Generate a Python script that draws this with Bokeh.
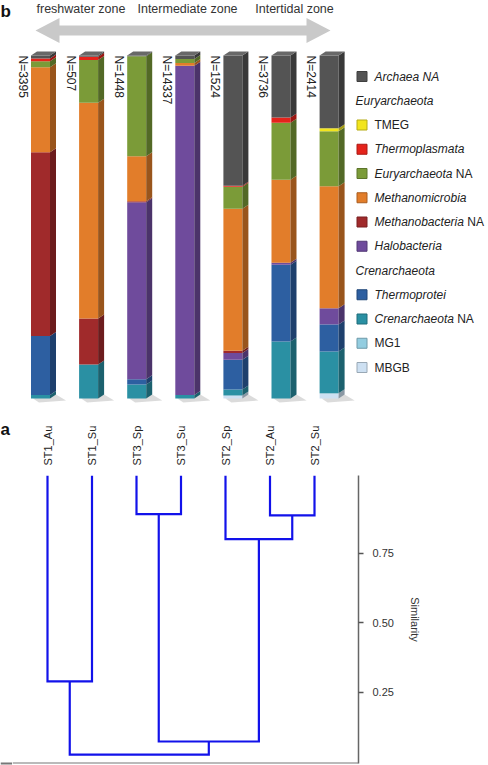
import math
from bokeh.plotting import figure
from bokeh.layouts import column, row
from bokeh.models import Range1d, FixedTicker, PrintfTickFormatter, Span
from bokeh.core.properties import value
from bokeh.embed import file_html
from bokeh.resources import INLINE

FONT = "Liberation Sans"

# ---------------- data ----------------
bar_labels = ["N=3395", "N=507", "N=1448", "N=14337", "N=1524", "N=3736", "N=2414"]
zones = ["freshwater zone", "Intermediate zone", "Intertidal zone"]

# stacking order bottom -> top
taxa = ["MBGB", "MG1", "Crenarchaeota NA", "Thermoprotei", "Halobacteria",
        "Methanobacteria NA", "Methanomicrobia", "Euryarchaeota NA",
        "Thermoplasmata", "TMEG", "Archaea NA"]
mbgb             = [0.0, 0.0, 0.0, 0.0, 0.9, 0.0, 1.5]
mg1              = [0.0, 0.0, 0.0, 0.0, 0.0, 0.0, 0.0]
crenarchaeota_na = [1.0, 9.9, 4.1, 1.0, 1.7, 16.6, 12.2]
thermoprotei     = [17.2, 0.0, 1.5, 0.0, 8.7, 22.4, 7.9]
halobacteria     = [0.0, 0.0, 51.6, 96.0, 2.0, 0.6, 4.7]
methanobacteria  = [53.6, 13.4, 0.3, 0.0, 0.6, 0.0, 0.0]
methanomicrobia  = [24.8, 62.9, 13.1, 0.8, 41.4, 24.2, 35.6]
euryarchaeota_na = [1.7, 12.5, 29.2, 1.2, 6.4, 16.6, 16.0]
thermoplasmata   = [0.8, 0.9, 0.0, 0.0, 0.3, 1.5, 0.0]
tmeg             = [0.0, 0.0, 0.0, 0.0, 0.0, 0.0, 0.9]
archaea_na       = [0.9, 0.4, 0.2, 1.0, 38.0, 18.1, 21.2]
series = [mbgb, mg1, crenarchaeota_na, thermoprotei, halobacteria, methanobacteria,
          methanomicrobia, euryarchaeota_na, thermoplasmata, tmeg, archaea_na]

colors = {
    "Archaea NA": "#545454", "TMEG": "#f2e51d", "Thermoplasmata": "#e5231b",
    "Euryarchaeota NA": "#7b9b38", "Methanomicrobia": "#e27d2a",
    "Methanobacteria NA": "#a02a2b", "Halobacteria": "#6f4b9c",
    "Thermoprotei": "#2d5fa1", "Crenarchaeota NA": "#2a90a3",
    "MG1": "#93cde0", "MBGB": "#cde0f2",
}

# legend rows: (kind, italic part, normal part, colour key)
legend_rows = [
    ("item", "Archaea NA", "", "Archaea NA"),
    ("head", "Euryarchaeota", "", None),
    ("item", "", "TMEG", "TMEG"),
    ("item", "Thermoplasmata", "", "Thermoplasmata"),
    ("item", "Euryarchaeota", "NA", "Euryarchaeota NA"),
    ("item", "Methanomicrobia", "", "Methanomicrobia"),
    ("item", "Methanobacteria", "NA", "Methanobacteria NA"),
    ("item", "Halobacteria", "", "Halobacteria"),
    ("head", "Crenarchaeota", "", None),
    ("item", "Thermoprotei", "", "Thermoprotei"),
    ("item", "Crenarchaeota", "NA", "Crenarchaeota NA"),
    ("item", "", "MG1", "MG1"),
    ("item", "", "MBGB", "MBGB"),
]

# dendrogram
leaves = ["ST1_Au", "ST1_Su", "ST3_Sp", "ST3_Su", "ST2_Sp", "ST2_Au", "ST2_Su"]
link_a = ["ST3_Sp", "ST2_Au", "ST2_Sp", "ST1_Au", "C0", "C3"]
link_b = ["ST3_Su", "ST2_Su", "C1", "ST1_Su", "C2", "C4"]
link_sim = [0.89, 0.885, 0.80, 0.288, 0.072, 0.025]
sim_ticks = [0.25, 0.50, 0.75]

# ---------------- helpers ----------------
def darken(hexc, f):
    h = hexc.lstrip("#")
    r, g, b = (int(h[i:i + 2], 16) for i in (0, 2, 4))
    return "#%02x%02x%02x" % (int(r * f), int(g * f), int(b * f))

def lighten(hexc, f):
    h = hexc.lstrip("#")
    r, g, b = (int(h[i:i + 2], 16) for i in (0, 2, 4))
    return "#%02x%02x%02x" % (int(r + (255 - r) * f), int(g + (255 - g) * f), int(b + (255 - b) * f))

AW = {"E": 667, "u": 556, "r": 333, "y": 500, "a": 556, "c": 500, "h": 556, "e": 556,
      "o": 556, "t": 278, "M": 833, "b": 556, "i": 222, "C": 722, "n": 556, " ": 278}

def text_w(s, size):
    return sum(AW.get(ch, 556) for ch in s) * size / 1000.0

def no_align(fig):
    try:
        fig.frame_align = False
    except Exception:
        pass

# ---------------- top chart (b) ----------------
TW, TH = 488, 404
XS, YS = 48.1, 3.43        # px per bar slot, px per percent
X0, Y0 = 40.0, 398.0       # px of bar 0 centre, px (from top) of 0 %

def fx(px):
    return (px - X0) / XS

def fy(py):
    return (Y0 - py) / YS

top = figure(width=TW, height=TH, x_range=Range1d(fx(0), fx(TW)), y_range=Range1d(fy(TH), fy(0)),
             x_axis_location=None, y_axis_location=None, toolbar_location=None, tools="",
             output_backend="svg", min_border=0, outline_line_color=None)
top.grid.visible = False
no_align(top)

half = 9.5 / XS
ddx = 6.0 / XS
ddy = 4.0 / YS

# floor shadows
sh_xs, sh_ys = [], []
for i in range(len(bar_labels)):
    xl, xr = i - half, i + half
    sh_xs.append([xl + 2 / XS, xr + ddx, xr + ddx + 10 / XS, xl + 8 / XS])
    sh_ys.append([0, ddy, -2.0 / YS, -4.0 / YS])
top.patches(sh_xs, sh_ys, fill_color="#bdbdbd", fill_alpha=0.55, line_color=None)

q = dict(left=[], right=[], bottom=[], top=[], color=[])
side_xs, side_ys, side_c = [], [], []
for i in range(len(bar_labels)):
    cum = 0.0
    xl, xr = i - half, i + half
    for t, s in zip(taxa, series):
        v = s[i]
        if v <= 0:
            continue
        q["left"].append(xl); q["right"].append(xr)
        q["bottom"].append(cum); q["top"].append(cum + v)
        q["color"].append(colors[t])
        side_xs.append([xr, xr + ddx, xr + ddx, xr])
        side_ys.append([cum, cum + ddy, cum + v + ddy, cum + v])
        side_c.append(darken(colors[t], 0.68))
        cum += v
    side_xs.append([xl, xl + ddx, xr + ddx, xr])
    side_ys.append([cum, cum + ddy, cum + ddy, cum])
    side_c.append(lighten(colors["Archaea NA"], 0.12))

top.quad(left="left", right="right", bottom="bottom", top="top", fill_color="color",
         line_color=None, source=q)
top.patches(side_xs, side_ys, fill_color=side_c, line_color=None)

# N labels
top.text(x=[i - 18.0 / XS for i in range(len(bar_labels))], y=[fy(55)] * len(bar_labels),
         text=bar_labels, angle=-math.pi / 2, text_align="left", text_baseline="middle",
         text_font=value(FONT), text_font_size="12px", text_color="#222222")

# zone labels and arrow
top.text(x=[fx(80.5), fx(187), fx(294)], y=[fy(8)] * 3, text=zones, text_align="center",
         text_baseline="middle", text_font=value(FONT), text_font_size="12.5px",
         text_color="#333333")
c = 30.0
ax_px = [35, 59, 59, 306, 306, 330, 306, 306, 59, 59]
ay_px = [c, c - 12.5, c - 5, c - 5, c - 12.5, c, c + 12.5, c + 5, c + 5, c + 12.5]
top.patch([fx(v) for v in ax_px], [fy(v) for v in ay_px], fill_color="#c9c9c9", line_color=None)

top.text(x=[fx(0)], y=[fy(11)], text=["b"], text_align="left", text_baseline="middle",
         text_font=value(FONT), text_font_size="17px", text_font_style="bold", text_color="#111111")

# legend
LX_SQ, LX_TXT, LX_HEAD = 361.5, 374.0, 355.0
for k, (kind, ital, norm, key) in enumerate(legend_rows):
    py = 76.0 + 24.25 * k
    if kind == "head":
        top.text(x=[fx(LX_HEAD)], y=[fy(py)], text=[ital], text_align="left", text_baseline="middle",
                 text_font=value(FONT), text_font_size="12px", text_font_style="italic",
                 text_color="#222222")
        continue
    top.scatter(x=[fx(LX_SQ)], y=[fy(py)], marker="square", size=10, fill_color=colors[key],
                line_color=darken(colors[key], 0.75), line_width=1)
    xpos = LX_TXT
    if ital:
        top.text(x=[fx(xpos)], y=[fy(py)], text=[ital], text_align="left", text_baseline="middle",
                 text_font=value(FONT), text_font_size="12px", text_font_style="italic",
                 text_color="#222222")
        xpos += text_w(ital, 12) + text_w(" ", 12)
    if norm:
        top.text(x=[fx(xpos)], y=[fy(py)], text=[norm], text_align="left", text_baseline="middle",
                 text_font=value(FONT), text_font_size="12px", text_color="#222222")

# ---------------- panel letter "a" strip ----------------
BH = 765 - TH
AWD = 12
F_TOP, F_BOT = 475.0, 763.0          # page px of dendrogram frame top / bottom
afig = figure(width=AWD, height=BH, x_range=Range1d(0, AWD), y_range=Range1d(BH, 0),
              x_axis_location=None, y_axis_location=None, toolbar_location=None, tools="",
              output_backend="svg", min_border=0, outline_line_color=None)
afig.grid.visible = False
no_align(afig)
afig.text(x=[0], y=[429 - TH], text=["a"], text_align="left", text_baseline="middle",
          text_font=value(FONT), text_font_size="17px", text_font_style="bold", text_color="#111111")
afig.line(x=[0, AWD], y=[F_BOT - TH, F_BOT - TH], line_color="#777777", line_width=2)

# ---------------- dendrogram (a) ----------------
BW = TW - AWD
LS = 44.5
LX0 = 47.0 - AWD
SIM_PX = 278.0
SIM0 = 761.0                          # page px of similarity 0
bot = figure(width=BW, height=BH,
             x_range=Range1d(-LX0 / LS, (358.0 - AWD - LX0) / LS),
             y_range=Range1d(-(F_BOT - SIM0) / SIM_PX, (SIM0 - F_TOP) / SIM_PX),
             x_axis_location="above", y_axis_location="right",
             toolbar_location=None, tools="", output_backend="svg",
             min_border_left=0, min_border_right=130, min_border_top=int(F_TOP - TH),
             min_border_bottom=int(765 - F_BOT), outline_line_color=None)
bot.grid.visible = False
no_align(bot)

ytop = bot.y_range.end
pos = {n: i for i, n in enumerate(leaves)}
hgt = {n: ytop for n in leaves}
d_xs, d_ys = [], []
for n, (a, b, s) in enumerate(zip(link_a, link_b, link_sim)):
    xa, xb = pos[a], pos[b]
    d_xs.append([xa, xa, xb, xb])
    d_ys.append([hgt[a], s, s, hgt[b]])
    pos["C%d" % n] = (xa + xb) / 2.0
    hgt["C%d" % n] = s
bot.multi_line(d_xs, d_ys, line_color="#1212ea", line_width=2.2, line_join="miter")

xa_ = bot.xaxis[0]
xa_.ticker = FixedTicker(ticks=list(range(len(leaves))))
xa_.major_label_overrides = {i: n for i, n in enumerate(leaves)}
xa_.major_label_orientation = "vertical"
xa_.major_tick_out = 0
xa_.major_tick_in = 0
xa_.minor_tick_out = 0
xa_.minor_tick_in = 0
xa_.axis_line_color = None
xa_.major_label_standoff = 10
xa_.major_label_text_font = FONT
xa_.major_label_text_font_size = "11px"
xa_.major_label_text_color = "#222222"

ya_ = bot.yaxis[0]
ya_.ticker = FixedTicker(ticks=sim_ticks)
ya_.formatter = PrintfTickFormatter(format="%.2f")
ya_.major_tick_out = 5
ya_.major_tick_in = 0
ya_.minor_tick_out = 0
ya_.minor_tick_in = 0
ya_.axis_line_color = "#666666"
ya_.axis_line_width = 1.5
ya_.major_tick_line_color = "#555555"
ya_.major_tick_line_width = 1.5
ya_.major_label_standoff = 9
ya_.major_label_text_font = FONT
ya_.major_label_text_font_size = "11px"
ya_.major_label_text_color = "#333333"
ya_.axis_label = "Similarity"
ya_.axis_label_text_font = FONT
ya_.axis_label_text_font_size = "11px"
ya_.axis_label_text_font_style = "normal"
ya_.axis_label_text_color = "#333333"
ya_.axis_label_standoff = 12

bot.add_layout(Span(location=bot.y_range.start, dimension="width", line_color="#777777", line_width=2))

bottom_row = row(afig, bot, spacing=0)
layout = column(top, bottom_row, spacing=0)
open("out.html", "w").write(file_html(layout, INLINE))
